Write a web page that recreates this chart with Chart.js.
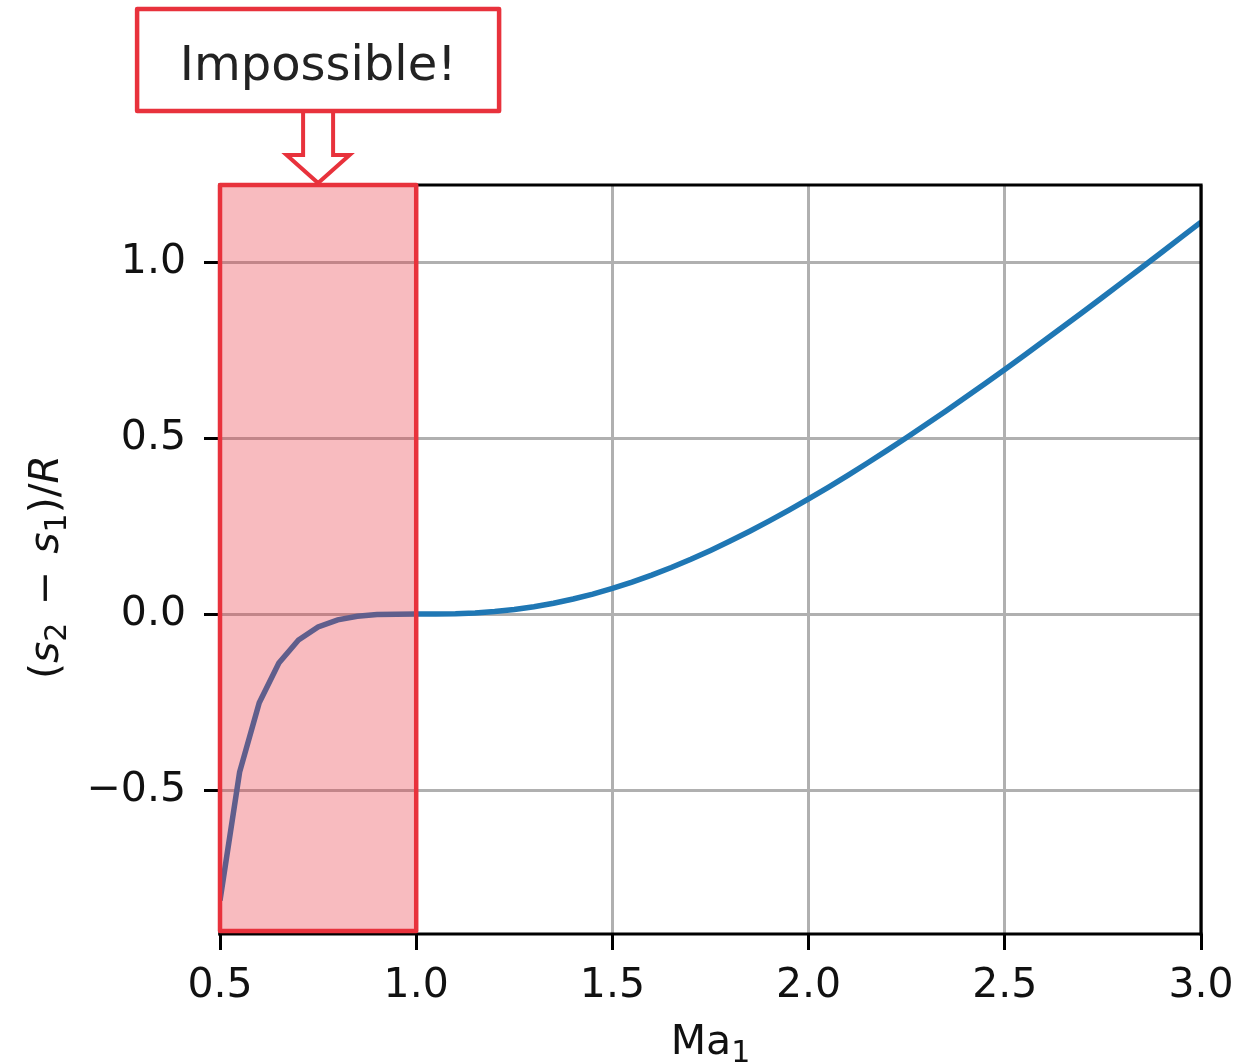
<!DOCTYPE html>
<html><head><meta charset="utf-8">
<script src="https://cdn.jsdelivr.net/npm/chart.js@4.4.1/dist/chart.umd.min.js"></script>
<style>html,body{margin:0;padding:0;background:#fff;overflow:hidden}canvas{display:block}</style>
</head><body>
<canvas id="c" width="1259" height="1063"></canvas>
<script>
// ---- data ----
const machNumbers = [0.50,0.55,0.60,0.65,0.70,0.75,0.80,0.85,0.90,0.95,
  1.00,1.05,1.10,1.15,1.20,1.25,1.30,1.35,1.40,1.45,
  1.50,1.55,1.60,1.65,1.70,1.75,1.80,1.85,1.90,1.95,
  2.00,2.05,2.10,2.15,2.20,2.25,2.30,2.35,2.40,2.45,
  2.50,2.55,2.60,2.65,2.70,2.75,2.80,2.85,2.90,2.95,3.00];
const entropyChange = [-0.814,-0.449,-0.252,-0.139,-0.0739,-0.0367,-0.0164,-0.0061,-0.0016,-0.0002,
  0.0,0.0002,0.0011,0.0033,0.0072,0.0130,0.0208,0.0307,0.0427,0.0567,
  0.0728,0.0908,0.1107,0.1324,0.1558,0.1809,0.2074,0.2354,0.2648,0.2955,
  0.3273,0.3602,0.3942,0.4292,0.4650,0.5017,0.5391,0.5772,0.6159,0.6553,
  0.6951,0.7355,0.7763,0.8175,0.8590,0.9009,0.9431,0.9854,1.0280,1.0708,1.1137];
const xTickValues = [0.5,1.0,1.5,2.0,2.5,3.0];
const yTickValues = [-0.5,0.0,0.5,1.0];
const xRange = [0.5, 3.0];
const yRange = [-0.909, 1.219];
const impossibleRange = [0.5, 1.0];
const annotationText = 'Impossible!';
const xTitleRuns = [{t:'Ma'},{t:'1',sub:true}];
const yTitleRuns = [{t:'('},{t:'s',it:true},{t:'2',sub:true},{gap:0.42},{t:'\u2212'},{gap:0.42},
  {t:'s',it:true},{t:'1',sub:true},{t:')/'},{t:'R',it:true}];

// ---- styling ----
const FAM = '"DejaVu Sans", sans-serif';
const FS = 41;
const RED = '#e8323c';
const BLUE = '#1f77b4';
const GRID = '#b0b0b0';

function fmt(v){ if (Math.abs(v) < 1e-9) return '0.0'; return Number(v).toFixed(1).replace('-', '\u2212'); }
function runFont(r, size){ return (r.it ? 'italic ' : '') + (r.sub ? Math.round(size*0.72) : size) + 'px ' + FAM; }
function runsWidth(ctx, runs, size){
  let w = 0;
  for (const r of runs){ if (r.gap){ w += r.gap*size; continue; } ctx.font = runFont(r,size); w += ctx.measureText(r.t).width; }
  return w;
}
function drawRuns(ctx, runs, size, x, y){
  for (const r of runs){
    if (r.gap){ x += r.gap*size; continue; }
    ctx.font = runFont(r,size);
    ctx.fillText(r.t, x, y + (r.sub ? 0.2*size : 0));
    x += ctx.measureText(r.t).width;
  }
}

const decorPlugin = {
  id: 'decor',
  beforeDraw(chart){
    const ctx = chart.ctx; ctx.save(); ctx.fillStyle = '#fff'; ctx.fillRect(0,0,chart.width,chart.height); ctx.restore();
  },
  afterDraw(chart){
    const ctx = chart.ctx, a = chart.chartArea, xs = chart.scales.x;
    ctx.save();
    // spines
    ctx.strokeStyle = '#000'; ctx.lineWidth = 3.2; ctx.lineCap = 'square';
    ctx.beginPath();
    ctx.moveTo(a.left, a.top); ctx.lineTo(a.right, a.top); ctx.lineTo(a.right, a.bottom);
    ctx.moveTo(a.left, a.top); ctx.lineTo(a.left, a.bottom);
    ctx.stroke();
    // shaded impossible region
    const x0 = xs.getPixelForValue(impossibleRange[0]);
    const x1 = xs.getPixelForValue(impossibleRange[1]);
    const rt = a.top, rb = a.bottom - 3;
    ctx.fillStyle = 'rgba(232,45,55,0.32)';
    ctx.fillRect(x0, rt, x1 - x0, rb - rt);
    // bottom spine drawn after fill
    ctx.strokeStyle = '#000'; ctx.lineWidth = 3.2;
    ctx.beginPath(); ctx.moveTo(a.left, a.bottom); ctx.lineTo(a.right, a.bottom); ctx.stroke();
    ctx.strokeStyle = RED; ctx.lineWidth = 4.5; ctx.lineJoin = 'round';
    ctx.strokeRect(x0, rt, x1 - x0, rb - rt);
    // annotation arrow
    const cx = xs.getPixelForValue((impossibleRange[0] + impossibleRange[1]) / 2);
    const boxTop = 9, boxBot = 111, boxHalf = 181;
    const shaftHalf = 15, headHalf = 31.5, headTop = 155, tipY = rt - 2;
    ctx.beginPath();
    ctx.moveTo(cx - shaftHalf, boxBot);
    ctx.lineTo(cx - shaftHalf, headTop);
    ctx.lineTo(cx - headHalf, headTop);
    ctx.lineTo(cx, tipY);
    ctx.lineTo(cx + headHalf, headTop);
    ctx.lineTo(cx + shaftHalf, headTop);
    ctx.lineTo(cx + shaftHalf, boxBot);
    ctx.closePath();
    ctx.fillStyle = '#fff'; ctx.fill();
    ctx.beginPath();
    ctx.moveTo(cx - shaftHalf, boxBot);
    ctx.lineTo(cx - shaftHalf, headTop);
    ctx.lineTo(cx - headHalf, headTop);
    ctx.lineTo(cx, tipY);
    ctx.lineTo(cx + headHalf, headTop);
    ctx.lineTo(cx + shaftHalf, headTop);
    ctx.lineTo(cx + shaftHalf, boxBot);
    ctx.strokeStyle = RED; ctx.lineWidth = 4; ctx.lineJoin = 'miter'; ctx.stroke();
    // annotation box
    ctx.fillStyle = '#fff';
    ctx.fillRect(cx - boxHalf, boxTop, 2*boxHalf, boxBot - boxTop);
    ctx.lineJoin = 'round'; ctx.lineWidth = 4.5; ctx.strokeStyle = RED;
    ctx.strokeRect(cx - boxHalf, boxTop, 2*boxHalf, boxBot - boxTop);
    ctx.fillStyle = '#222'; ctx.font = '48px ' + FAM; ctx.textAlign = 'center'; ctx.textBaseline = 'alphabetic';
    ctx.fillText(annotationText, cx, 80);
    // axis titles
    ctx.textAlign = 'left'; ctx.fillStyle = '#111';
    const xw = runsWidth(ctx, xTitleRuns, FS);
    drawRuns(ctx, xTitleRuns, FS, (a.left + a.right)/2 - xw/2, 1054);
    const yw = runsWidth(ctx, yTitleRuns, FS);
    ctx.save();
    ctx.translate(58, 567);
    ctx.rotate(-Math.PI/2);
    drawRuns(ctx, yTitleRuns, FS, -yw/2, 0);
    ctx.restore();
    ctx.restore();
  }
};

const points = machNumbers.map((m, i) => ({x: m, y: entropyChange[i]}));

new Chart(document.getElementById('c'), {
  type: 'line',
  data: { datasets: [{ data: points, borderColor: BLUE, borderWidth: 5.5, pointRadius: 0, tension: 0, fill: false }] },
  options: {
    responsive: false, animation: false, devicePixelRatio: 1,
    layout: { padding: { left: 0, top: 185, right: 58, bottom: 0 } },
    plugins: { legend: { display: false }, tooltip: { enabled: false }, title: { display: false } },
    scales: {
      x: {
        type: 'linear', min: xRange[0], max: xRange[1],
        afterBuildTicks(s){ s.ticks = xTickValues.map(v => ({value: v})); },
        afterFit(s){ s.height = 129; },
        ticks: { callback: v => fmt(v), font: { family: FAM, size: FS }, color: '#111', padding: 12, maxRotation: 0, autoSkip: false, includeBounds: false },
        grid: { color: GRID, lineWidth: 3, tickLength: 16, tickColor: '#000', tickWidth: 3 },
        border: { display: false }
      },
      y: {
        type: 'linear', min: yRange[0], max: yRange[1],
        afterBuildTicks(s){ s.ticks = yTickValues.map(v => ({value: v})); },
        afterFit(s){ s.width = 220; },
        ticks: { callback: v => fmt(v), font: { family: FAM, size: FS }, color: '#111', padding: 18, autoSkip: false, includeBounds: false },
        grid: { color: GRID, lineWidth: 3, tickLength: 16, tickColor: '#000', tickWidth: 3 },
        border: { display: false }
      }
    }
  },
  plugins: [decorPlugin]
});
</script>
</body></html>
